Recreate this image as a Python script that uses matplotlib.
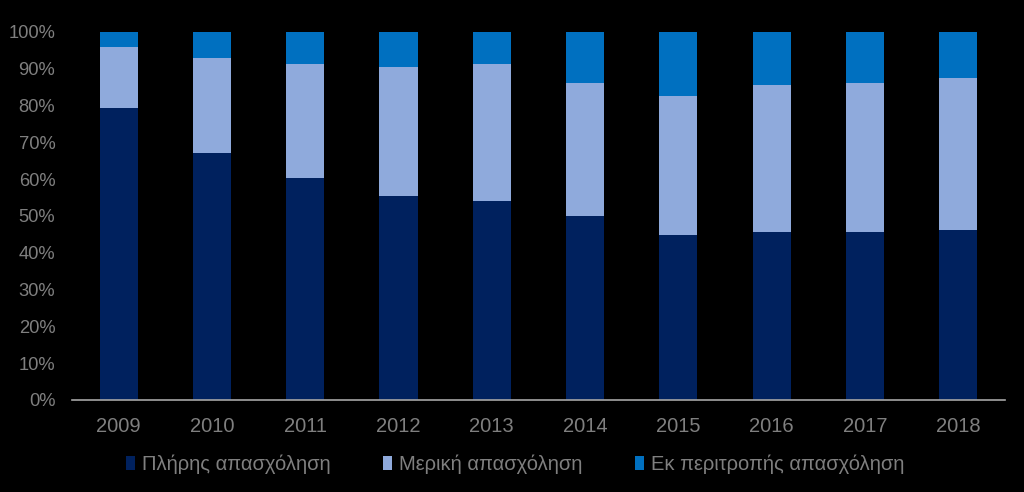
import numpy as np
import matplotlib.pyplot as plt
from matplotlib.ticker import PercentFormatter

plt.rcParams['font.family'] = ['Liberation Sans', 'DejaVu Sans']

years = ['2009', '2010', '2011', '2012', '2013', '2014', '2015', '2016', '2017', '2018']
full_time = [79.3, 67.1, 60.3, 55.4, 54.1, 50.0, 44.8, 45.7, 45.7, 46.2]
part_time = [16.6, 25.8, 31.0, 35.1, 37.2, 36.1, 37.8, 39.9, 40.4, 41.3]
rotation = [4.1, 7.1, 8.7, 9.5, 8.7, 13.9, 17.4, 14.4, 13.9, 12.5]
labels = ['Πλήρης απασχόληση', 'Μερική απασχόληση', 'Εκ περιτροπής απασχόληση']
colors = ['#00215E', '#8FAADC', '#0070C0']
text_col = '#7F7F7F'

fig = plt.figure(figsize=(10.24, 4.92), dpi=100, facecolor='black')
ax = fig.add_axes([0.0703, 0.187, 0.911, 0.748], facecolor='black')

x = np.arange(len(years))
bottom = np.zeros(len(years))
for vals, lab, col in zip([full_time, part_time, rotation], labels, colors):
    ax.bar(x, vals, 0.41, bottom=bottom, color=col, label=lab)
    bottom += np.array(vals)

ax.set_xlim(-0.5, len(years) - 0.5)
ax.set_ylim(0, 100)
ax.set_yticks(np.arange(0, 101, 10))
ax.yaxis.set_major_formatter(PercentFormatter(decimals=0))
ax.set_xticks(x)
ax.set_xticklabels(years)
ax.tick_params(colors=text_col, length=0)
ax.tick_params(axis='x', pad=12, labelsize=14.5)
ax.tick_params(axis='y', pad=12, labelsize=13.2)
for side in ['top', 'right', 'left']:
    ax.spines[side].set_visible(False)
ax.spines['bottom'].set_color('#A6A6A6')
ax.spines['bottom'].set_linewidth(1.2)

leg = fig.legend(loc='center', bbox_to_anchor=(0.503, 0.056), ncol=3, frameon=False,
                 fontsize=14.5, handlelength=0.45, handleheight=0.7, handletextpad=0.35,
                 columnspacing=2.6)
for t in leg.get_texts():
    t.set_color(text_col)

fig.savefig('out.png', dpi=100, facecolor='black')
